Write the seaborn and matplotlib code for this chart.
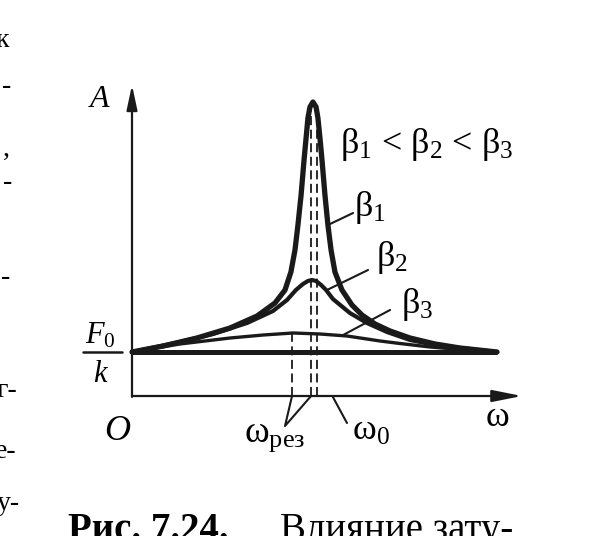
import numpy as np
import pandas as pd
import matplotlib
matplotlib.use("Agg")
import matplotlib.pyplot as plt
import seaborn as sns

# Resonance curves (omega in units of omega_0, A in units of F0/k)
b1_w = [0.0, 0.168, 0.351, 0.530, 0.676, 0.773, 0.827, 0.859, 0.881, 0.897, 0.914,
        0.930, 0.941, 0.951, 0.962, 0.978, 0.995, 1.005, 1.016, 1.027, 1.043, 1.059,
        1.076, 1.097, 1.135, 1.189, 1.243, 1.314, 1.395, 1.503, 1.638, 1.773, 1.973]
b1_a = [1.0, 1.136, 1.318, 1.545, 1.818, 2.114, 2.409, 2.818, 3.318, 3.886, 4.568,
        5.364, 5.864, 6.318, 6.568, 6.682, 6.568, 6.318, 5.864, 5.364, 4.568, 3.886,
        3.318, 2.818, 2.409, 2.068, 1.841, 1.636, 1.477, 1.318, 1.182, 1.091, 1.0]

b2_w = [0.0, 0.259, 0.438, 0.622, 0.762, 0.838, 0.886, 0.924, 0.951, 0.973, 0.995,
        1.022, 1.049, 1.086, 1.178, 1.270, 1.378, 1.503, 1.665, 1.827, 1.973]
b2_a = [1.0, 1.227, 1.409, 1.659, 1.932, 2.182, 2.409, 2.545, 2.614, 2.636, 2.614,
        2.523, 2.409, 2.205, 1.886, 1.659, 1.455, 1.273, 1.136, 1.068, 1.0]

b3_w = [0.0, 0.259, 0.530, 0.708, 0.870, 1.016, 1.162, 1.341, 1.449, 1.611, 1.773, 1.973]
b3_a = [1.0, 1.182, 1.318, 1.386, 1.432, 1.409, 1.364, 1.25, 1.193, 1.114, 1.057, 1.0]

base_w = [0.0, 1.973]
base_a = [1.0, 1.0]

# dashed drop lines: (omega, top)
drop_w = [0.865, 0.968, 1.0]
drop_top = [1.43, 6.6, 6.6]

df = pd.concat([
    pd.DataFrame({"w": b1_w, "A": b1_a, "beta": "b1"}),
    pd.DataFrame({"w": b2_w, "A": b2_a, "beta": "b2"}),
    pd.DataFrame({"w": b3_w, "A": b3_a, "beta": "b3"}),
])

sns.set_theme(style="white")
plt.rcParams["font.family"] = ["Liberation Serif", "DejaVu Serif"]
plt.rcParams["text.color"] = "black"
plt.rcParams["mathtext.fontset"] = "custom"
plt.rcParams["mathtext.rm"] = "Liberation Serif"
plt.rcParams["mathtext.it"] = "Liberation Serif:italic"
plt.rcParams["mathtext.bf"] = "Liberation Serif:bold"

fig = plt.figure(figsize=(6.0, 5.36), dpi=100)
ax = fig.add_axes([0, 0, 1, 1])
ax.set_xlim(-132 / 185, 468 / 185)
ax.set_ylim(-140 / 44, 396 / 44)
ax.axis("off")

# curves
sns.lineplot(data=df, x="w", y="A", hue="beta", size="beta",
             palette={"b1": "k", "b2": "k", "b3": "k"},
             sizes={"b1": 3.8, "b2": 3.0, "b3": 2.4},
             sort=False, estimator=None, legend=False, ax=ax,
             solid_capstyle="round", solid_joinstyle="round")
ax.plot(base_w, base_a, color="k", lw=3.6, solid_capstyle="butt")

for w, top in zip(drop_w, drop_top):
    ax.plot([w, w], [0, top], color="k", lw=1.3, dashes=(5, 2.5))

# axes with arrows
ax.annotate("", xy=(2.108, 0), xytext=(0, 0),
            arrowprops=dict(arrowstyle="-|>,head_length=1.8,head_width=0.36",
                            lw=1.6, color="k", shrinkA=0, shrinkB=0, mutation_scale=10))
ax.annotate("", xy=(0, 7.07), xytext=(0, -0.02),
            arrowprops=dict(arrowstyle="-|>,head_length=1.5,head_width=0.32",
                            lw=1.6, color="k", shrinkA=0, shrinkB=0, mutation_scale=10))

# leader lines
lw_lead = 1.5
ax.plot([1.059, 1.195], [3.886, 4.159], color="k", lw=lw_lead)
ax.plot([1.054, 1.276], [2.409, 2.864], color="k", lw=lw_lead)
ax.plot([1.141, 1.395], [1.386, 1.955], color="k", lw=lw_lead)
ax.plot([0.865, 0.827, 0.968], [0, -0.682, 0], color="k", lw=lw_lead)
ax.plot([1.162, 1.086], [-0.614, -0.023], color="k", lw=lw_lead)

# labels
ax.text(-0.173, 6.73, "A", style="italic", fontsize=23, ha="center", va="center")
ax.text(1.124, 5.52, "β$_1$ < β$_2$ < β$_3$", fontsize=26, ha="left", va="baseline")
ax.text(1.200, 4.09, "β$_1$", fontsize=26, ha="left", va="baseline")
ax.text(1.318, 2.95, "β$_2$", fontsize=26, ha="left", va="baseline")
ax.text(1.452, 1.886, "β$_3$", fontsize=26, ha="left", va="baseline")
ax.text(-0.173, 1.38, "$F_0$", fontsize=22, ha="center", va="center")
ax.plot([-0.265, -0.054], [1.0, 1.0], color="k", lw=1.8)
ax.text(-0.173, 0.5, "k", style="italic", fontsize=22, ha="center", va="center")
ax.text(-0.081, -0.818, "O", style="italic", fontsize=26, ha="center", va="center")
ax.text(1.973, -0.5, "ω", fontsize=26, ha="center", va="center")
ax.text(0.605, -1.045, "ω$_{\\mathrm{рез}}$", fontsize=27, ha="left", va="baseline")
ax.text(1.190, -1.0, "ω$_0$", fontsize=26, ha="left", va="baseline")

# caption (cut off by the page edge)
fig.text(68 / 600, 1 - 540 / 536, "Рис. 7.24.", fontsize=28, fontweight="bold",
         ha="left", va="baseline")
fig.text(280 / 600, 1 - 540 / 536, "Влияние зату-", fontsize=28,
         ha="left", va="baseline")

# fragments of the neighbouring column
frags = [("к", 9, 47), ("-", 11, 93), (",", 10, 156), ("-", 12, 189),
         ("-", 10, 284), ("г-", 17, 397), ("е-", 17, 458), ("у-", 20, 510)]
for s, xr, yb in frags:
    fig.text(xr / 600, 1 - yb / 536, s, fontsize=20, ha="right", va="baseline")

fig.savefig("out.png", dpi=100)
